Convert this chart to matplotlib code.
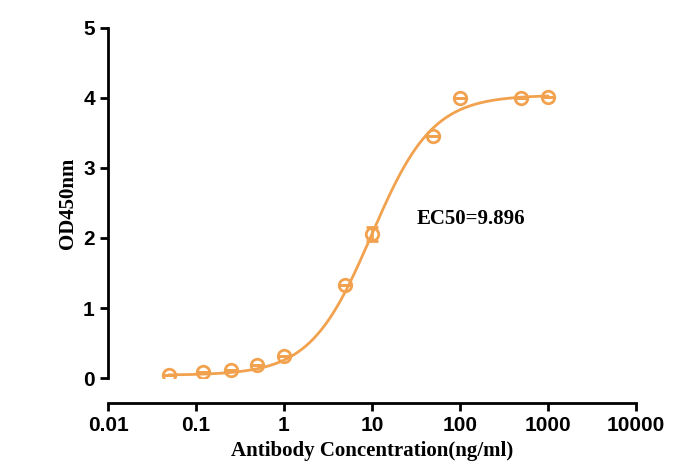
import numpy as np
import matplotlib
matplotlib.use("Agg")
import matplotlib.pyplot as plt

# measured points
conc = [0.05, 0.12, 0.25, 0.5, 1, 5, 10, 50, 100, 500, 1000]
od = [0.05, 0.08, 0.12, 0.18, 0.32, 1.33, 2.05, 3.46, 4.00, 4.00, 4.01]
err = [0, 0, 0, 0, 0, 0, 0.1, 0, 0, 0, 0]

# 4PL fit parameters
bottom, top, ec50, hill = 0.04, 4.04, 9.896, 1.25

x_ticks = [0.01, 0.1, 1, 10, 100, 1000, 10000]
x_labels = ["0.01", "0.1", "1", "10", "100", "1000", "10000"]
y_ticks = [0, 1, 2, 3, 4, 5]

col = "#F2A24E"

fig = plt.figure(figsize=(6.88, 4.65), dpi=100)
ax = fig.add_axes([0.157, 0.187, 0.767, 0.753])

xs = np.logspace(np.log10(0.05), np.log10(1000), 300)
ax.plot(xs, bottom + (top - bottom) / (1 + (ec50 / xs) ** hill), color=col, lw=2)
ax.errorbar(conc, od, yerr=err, fmt="o", ms=9, mfc="none", mec=col, mew=2,
            ecolor=col, capsize=4, elinewidth=2)

ax.set_xscale("log")
ax.set_xlim(0.01, 10000)
ax.set_ylim(0, 5)
ax.set_xticks(x_ticks)
ax.set_xticklabels(x_labels)
ax.set_yticks(y_ticks)
ax.minorticks_off()

for s in ["top", "right"]:
    ax.spines[s].set_visible(False)
for s in ["left", "bottom"]:
    ax.spines[s].set_linewidth(2)
ax.spines["bottom"].set_position(("outward", 18))
ax.tick_params(width=2, length=6)
for lab in ax.get_xticklabels() + ax.get_yticklabels():
    lab.set_fontfamily("Liberation Sans")
    lab.set_fontweight("bold")
    lab.set_fontsize(15)

ax.set_xlabel("Antibody Concentration(ng/ml)", fontfamily="Liberation Serif",
              fontweight="bold", fontsize=15)
ax.set_ylabel("OD450nm", fontfamily="Liberation Serif", fontweight="bold", fontsize=15)
ax.text(32, 2.2, "EC50=9.896", fontfamily="Liberation Serif", fontweight="bold", fontsize=15)

fig.savefig("out.png", dpi=100)
